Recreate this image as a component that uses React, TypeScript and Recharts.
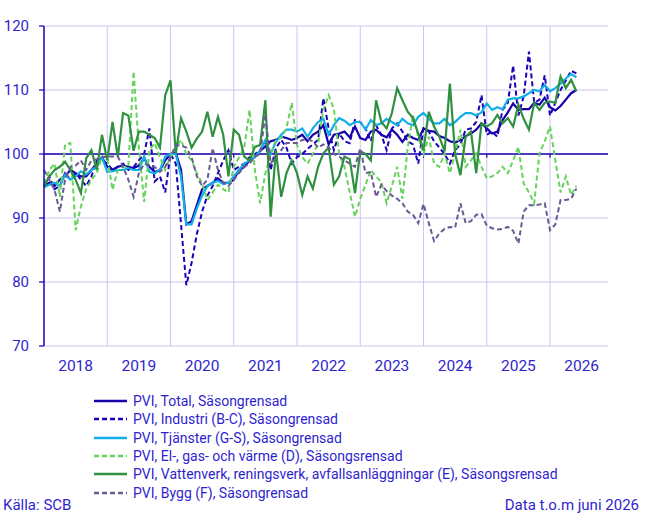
import React from 'react';
import { LineChart, Line, XAxis, YAxis, CartesianGrid, ReferenceLine } from 'recharts';

const years = ['2018', '2019', '2020', '2021', '2022', '2023', '2024', '2025', '2026'];
const yTicks = [70, 80, 90, 100, 110, 120];

const total = [
  95, 95.5, 95, 96, 96.5, 97.5, 97, 96.5, 96.5, 97.5, 98.5, 99.5,
  98, 97.5, 98, 98.2, 98, 97.8, 98.2, 99.3, 98, 97.2, 97.5, 99,
  100, 100.2, 97.5, 89, 89.5, 92, 94.5, 95, 95.5, 96.2, 95.5, 95.5,
  96, 97.5, 98, 99, 99.5, 100.5, 101.2, 102, 102.2, 102.7, 102.5, 102.2,
  102.5, 103, 102, 103, 103.5, 104.5, 101.5, 103, 103.2, 103.5, 102.6, 104.3,
  102.5, 102.2, 103.5, 103.8, 103, 102.6, 103.8, 103, 101.9, 103, 102.5, 102.2,
  104, 103.6, 103.5, 102.8, 102.5, 102, 101.8, 102.2, 102.8, 103.2, 103.8, 104.8,
  104, 103.2, 103.5, 105.3, 106.5, 107.9, 106.9, 107, 107, 108, 107.7, 108.8,
  107.3, 106.8, 107.5, 108.5, 109.5, 110,
];

const industri = [
  95, 96.5, 94.5, 95, 97, 96, 97, 96, 95, 96.5, 99, 99,
  98.5, 97.5, 98, 98.5, 97.5, 98, 99, 100, 104, 95.7, 96.5, 94,
  100, 98.5, 89, 79.5, 83, 87.5, 91, 93.5, 95, 97, 99, 100.6,
  97.5, 98, 98.5, 99.5, 100, 100.5, 101.9, 97.5, 100.9, 102.2, 101, 98.5,
  99.5, 100, 100.8, 101.5, 102.2, 108.7, 104, 100.6, 103.2, 102, 101.7, 105.3,
  105, 104, 102, 104.5, 103, 100.6, 104, 104.8, 103.5, 102, 101.5, 98.5,
  104, 103.5, 102, 101, 100, 98.5, 100.6, 101.5, 103.8, 104, 105, 109.2,
  103, 103.5, 102.7, 106.9, 108, 113.8, 106, 109, 116, 108, 108.5, 112.3,
  106, 108, 110, 111.5, 113, 112.6,
];

const tjanster = [
  94.8, 95.2, 95.5, 95, 96.7, 96, 96.5, 97.3, 96.8, 97.5, 98, 99.5,
  97.2, 97.3, 97.5, 97.5, 97.8, 97.5, 97.5, 99.6, 97.2, 97, 97.5, 99.6,
  100, 100, 96.5, 89, 89, 91.5, 93.5, 95, 95.5, 95.8, 95.3, 95.5,
  96.5, 97.5, 98.5, 99, 99.5, 100.5, 102.2, 100, 101.9, 103, 103.8, 103.8,
  103.5, 104, 102.7, 104, 105, 105.5, 103, 104.5, 105.6, 105.2, 104.5, 105,
  105, 103.8, 105.3, 104.5, 104.8, 105.5, 105, 104.5, 105.5, 104.8, 104.5, 105.8,
  106.4, 105.5, 104.8, 104.8, 105.5, 104.5, 105, 105.8, 106.4, 106.4, 106, 106.5,
  107.9, 106.9, 107.3, 107, 108.5, 108.7, 108.7, 109, 109.5, 110, 109.8, 110.8,
  109.8, 110.3, 111, 111.8, 112.5, 112,
];

const elgas = [
  95.4, 97.5, 98.5, 93.3, 101.5, 101.7, 88.1, 91.8, 94.5, 96, 97, 99.6,
  99.5, 94.4, 97.5, 98, 98, 112.9, 101, 92.5, 100.6, 101.7, 99.5, 97.5,
  99.6, 101, 102.2, 100, 99, 97, 95.4, 92.8, 94, 95.2, 94.5, 94,
  98, 99.5, 101.1, 106.9, 97.5, 92.3, 97, 100, 102.2, 102.5, 104, 108,
  101.4, 99.5, 98.5, 100, 101.5, 106.9, 109.2, 107, 100, 98, 94, 90.2,
  93, 95.2, 97.5, 96.5, 95.6, 92.3, 95, 98, 93, 101, 106.1, 102.7,
  100, 102.7, 98.5, 98, 100.1, 97, 100, 103.8, 98, 99, 100.1, 98,
  96.2, 96.5, 97, 98, 97, 99, 101.1, 95.4, 94, 92.3, 100.1, 102,
  104.3, 99, 94, 96.5, 93.6, 95,
];

const vatten = [
  94.9, 96.5, 97.5, 98, 98.8, 97.5, 96, 93.9, 99.3, 100.6, 97.5, 103,
  99, 105, 99.5, 106.4, 106, 100.5, 103.5, 103.5, 103, 102.5, 101, 109.2,
  111.5, 100.1, 105.6, 103.5, 101, 102.4, 103.5, 106.6, 102.7, 105.8, 103, 96.5,
  103.8, 103, 99.6, 99, 101.1, 101.4, 108.4, 90.2, 100.6, 93.3, 97, 99,
  97, 93.6, 96.5, 94.6, 98, 100.1, 101, 95.2, 96.5, 99.6, 99.2, 93.9,
  100.4, 100, 99, 108.4, 105, 104, 106.4, 110.3, 108.4, 106.6, 105.6, 103.2,
  100.6, 106.6, 104.3, 102.7, 100.4, 111, 100, 96.7, 102.7, 103.5, 97, 104.8,
  104.3, 104.8, 106.1, 104.8, 105.6, 104.3, 107.7, 105.5, 103.8, 108, 106.9, 108,
  108.2, 108, 112.1, 110.3, 111.6, 109.8,
];

const bygg = [
  97.5, 96, 94.4, 91, 96, 98, 98.2, 99, 97.5, 99, 99.2, 99.5,
  99.6, 99.6, 99.6, 98, 96, 93.3, 97, 98.5, 98.2, 98, 97.2, 98,
  99.5, 101.4, 101.3, 101, 99.5, 96.5, 95, 96, 100.9, 97.5, 95.5, 95,
  96, 97, 98, 98.5, 99.6, 100, 106.2, 98.5, 99.6, 100.6, 101.7, 101.7,
  101.7, 102.2, 102.3, 102, 101, 101.5, 101, 100, 99.6, 99, 98.5, 98,
  100.9, 97, 97.2, 93.3, 95.2, 94.2, 93.5, 93, 92.3, 91, 90.5, 89.2,
  92.2, 89.2, 86.4, 87.6, 88.3, 88.6, 88.5, 92.3, 89.2, 89.5, 90.5, 90.6,
  88.8, 88.4, 88.2, 88.3, 88.6, 88, 86, 91, 92, 92, 92.1, 92.3,
  88.1, 89, 92.8, 92.8, 93, 94.6,
];

const data = total.map((v, i) => ({
  i,
  total: v,
  industri: industri[i],
  tjanster: tjanster[i],
  elgas: elgas[i],
  vatten: vatten[i],
  bygg: bygg[i],
}));

const TEXT = '#2f1fcf';
const AXIS = '#1a00b0';
const GRID = '#cbc5f2';
const FONT = 'Roboto, "Noto Sans", sans-serif';

const series = [
  { key: 'total', name: 'PVI, Total, Säsongrensad', color: '#1600aa', dash: undefined, width: 2.2 },
  { key: 'industri', name: 'PVI, Industri (B-C), Säsongrensad', color: '#1c00b8', dash: '5 3', width: 2 },
  { key: 'tjanster', name: 'PVI, Tjänster (G-S), Säsongrensad', color: '#12aee8', dash: undefined, width: 2.2 },
  { key: 'elgas', name: 'PVI, El-, gas- och värme (D), Säsongsrensad', color: '#66d45c', dash: '5 3', width: 2 },
  { key: 'vatten', name: 'PVI, Vattenverk, reningsverk, avfallsanläggningar (E), Säsongsrensad', color: '#2f9040', dash: undefined, width: 2.2 },
  { key: 'bygg', name: 'PVI, Bygg (F), Säsongrensad', color: '#6a5a92', dash: '5 3', width: 2 },
];

const yearTicks = years.map((_, k) => 6 + 12 * k);
const yearBounds = years.slice(1).map((_, k) => 12 * (k + 1));

export default function App() {
  return (
    <div style={{ position: 'absolute', left: 0, top: 0, width: 645, height: 518, background: '#fff', fontFamily: FONT }}>
      <LineChart
        width={645}
        height={380}
        data={data}
        margin={{ top: 26, right: 37, bottom: 0, left: 0 }}
      >
        <CartesianGrid horizontal vertical={false} stroke={GRID} strokeWidth={1} />
        {yearBounds.map((b) => (
          <ReferenceLine key={'v' + b} x={b} stroke={GRID} strokeWidth={1} ifOverflow="visible" />
        ))}
        <XAxis
          dataKey="i"
          type="number"
          domain={[0, 107]}
          ticks={yearTicks}
          tickFormatter={(v) => years[Math.round((v - 6) / 12)]}
          axisLine={false}
          tickLine={false}
          tickSize={6}
          tickMargin={8}
          height={34}
          interval={0}
          tick={{ fill: TEXT, fontSize: 15.5, fontFamily: FONT }}
        />
        <YAxis
          type="number"
          domain={[70, 120]}
          ticks={yTicks}
          width={44}
          axisLine={{ stroke: AXIS, strokeWidth: 1.5 }}
          tickLine={{ stroke: AXIS, strokeWidth: 1.2 }}
          tickSize={5}
          tickMargin={10}
          tick={{ fill: TEXT, fontSize: 15, fontFamily: FONT }}
        />
        <ReferenceLine y={100} stroke={AXIS} strokeWidth={1.5} />
        {yearBounds.map((b) => (
          <ReferenceLine
            key={'t' + b}
            segment={[{ x: b, y: 100 }, { x: b, y: 99.4 }]}
            stroke={AXIS}
            strokeWidth={1.2}
          />
        ))}
        {series.map((s) => (
          <Line
            key={s.key}
            dataKey={s.key}
            type="linear"
            stroke={s.color}
            strokeWidth={s.width}
            strokeDasharray={s.dash}
            dot={false}
            activeDot={false}
            isAnimationActive={false}
          />
        ))}
      </LineChart>
      <div style={{ position: 'absolute', left: 94, top: 392 }}>
        {series.map((s) => (
          <div key={s.key} style={{ display: 'flex', alignItems: 'center', height: 18.3 }}>
            <svg width={34} height={10} style={{ marginRight: 5 }}>
              <line x1={0} y1={5} x2={33} y2={5} stroke={s.color} strokeWidth={2.4} strokeDasharray={s.dash} />
            </svg>
            <span style={{ color: TEXT, fontSize: 14, fontFamily: FONT, whiteSpace: 'nowrap' }}>{s.name}</span>
          </div>
        ))}
      </div>
      <div style={{ position: 'absolute', left: 3, top: 496, color: TEXT, fontSize: 15, fontFamily: FONT }}>Källa: SCB</div>
      <div style={{ position: 'absolute', right: 6, top: 496, color: TEXT, fontSize: 15, fontFamily: FONT }}>Data t.o.m juni 2026</div>
    </div>
  );
}
